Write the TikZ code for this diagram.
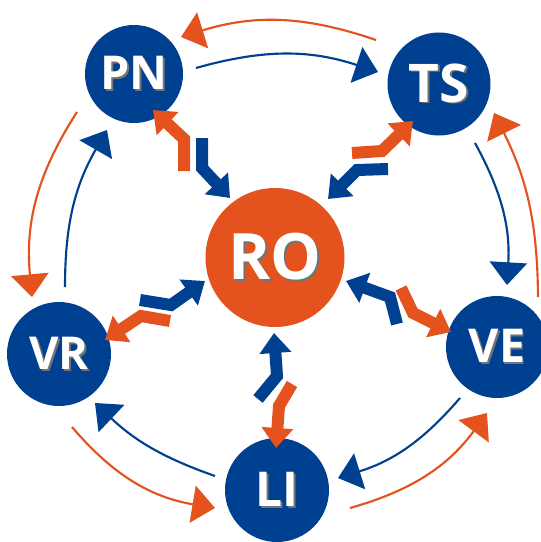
\documentclass[tikz,border=0pt]{standalone}
\usepackage{fontspec}
\newfontfamily\labfont{Open Sans}
\usetikzlibrary{arrows.meta}
\definecolor{cblue}{RGB}{0,64,145}
\definecolor{corange}{RGB}{228,82,30}
\newcommand\shtxt[1]{\makebox[0pt][l]{\kern1.3pt\raisebox{-1.3pt}{\color{black!55}#1}}#1}
\begin{document}
\begin{tikzpicture}[x=0.75pt,y=0.75pt,
  bub/.style={circle, fill=cblue, inner sep=0pt, text=white},
  bubo/.style={bub, fill=corange},
  lf/.style={font=\labfont\bfseries\fontsize{#1}{#1}\selectfont},
  outb/.style={cblue, line width=1.6pt, -{Triangle[length=17pt,width=28pt]}},
  outo/.style={outb, corange},
  zzb/.style={cblue, line width=9pt, line join=miter, -{Triangle[length=15pt,width=23pt]}},
  zzo/.style={zzb, corange}]
\useasboundingbox (0,0) rectangle (541,-542);
% nodes
\node[bub, lf=35, minimum size=73.5pt] (PN) at (134,-74) {\shtxt{PN}};
\node[bub, lf=40, minimum size=77.25pt] (TS) at (439,-84) {\shtxt{TS}};
\node[bubo, lf=48, minimum size=104.25pt] (RO) at (275,-257.5) {\shtxt{RO}};
\node[bub, lf=34, minimum size=78pt] (VR) at (59,-354) {\shtxt{VR}};
\node[bub, lf=35, minimum size=76.5pt] (VE) at (497,-347) {\shtxt{VE}};
\node[bub, lf=36, minimum size=78pt] (LI) at (277,-490) {\shtxt{LI}};
% outer ring coordinates
\coordinate (b1s) at (196,-68);  \coordinate (b1e) at (378,-72);
\coordinate (o1s) at (376,-40);  \coordinate (o1e) at (181,-37);
\coordinate (b2s) at (475,-143); \coordinate (b2e) at (507,-285);
\coordinate (o2s) at (538,-297); \coordinate (o2e) at (494,-113);
\coordinate (b3s) at (460,-398); \coordinate (b3e) at (338,-478);
\coordinate (o3s) at (350,-508); \coordinate (o3e) at (487,-413);
\coordinate (b4s) at (215,-476); \coordinate (b4e) at (95,-403);
\coordinate (o4s) at (72,-427);  \coordinate (o4e) at (215,-508);
\coordinate (b5s) at (65,-287);  \coordinate (b5e) at (107,-130);
\coordinate (o5s) at (77,-112);  \coordinate (o5e) at (32,-297);
\draw[outb] (b1s) to[bend left=17] (b1e);
\draw[outo] (o1s) to[bend right=18] (o1e);
\draw[outb] (b2s) to[bend left=16] (b2e);
\draw[outo] (o2s) to[bend right=13] (o2e);
\draw[outb] (b3s) to[bend left=16] (b3e);
\draw[outo] (o3s) to[bend right=19] (o3e);
\draw[outb] (b4s) to[bend left=12] (b4e);
\draw[outo] (o4s) to[bend right=20] (o4e);
\draw[outb] (b5s) to[bend left=15] (b5e);
\draw[outo] (o5s) to[bend right=19] (o5e);
% zigzag coordinates
\coordinate (pa1) at (184,-171); \coordinate (pa2) at (184,-139); \coordinate (pa3) at (153,-110);
\coordinate (pb1) at (202,-138); \coordinate (pb2) at (202,-168); \coordinate (pb3) at (230,-198);
\coordinate (ta1) at (352,-153); \coordinate (ta2) at (382,-151); \coordinate (ta3) at (413,-121);
\coordinate (tb1) at (388,-169); \coordinate (tb2) at (357,-170); \coordinate (tb3) at (328,-199);
\coordinate (ea1) at (401,-288); \coordinate (ea2) at (413,-313); \coordinate (ea3) at (451,-332);
\coordinate (eb1) at (397,-324); \coordinate (eb2) at (390,-297); \coordinate (eb3) at (346,-281);
\coordinate (la1) at (292,-384); \coordinate (la2) at (279,-406); \coordinate (la3) at (276,-448);
\coordinate (lb1) at (258,-399); \coordinate (lb2) at (277,-376); \coordinate (lb3) at (274,-333);
\coordinate (va1) at (170,-321); \coordinate (va2) at (141,-316); \coordinate (va3) at (105,-340);
\coordinate (vb1) at (140,-300); \coordinate (vb2) at (171,-305); \coordinate (vb3) at (205,-281);
\draw[zzo] (pa1) -- (pa2) -- (pa3);
\draw[zzb] (pb1) -- (pb2) -- (pb3);
\draw[zzo] (ta1) -- (ta2) -- (ta3);
\draw[zzb] (tb1) -- (tb2) -- (tb3);
\draw[zzo] (ea1) -- (ea2) -- (ea3);
\draw[zzb] (eb1) -- (eb2) -- (eb3);
\draw[zzo] (la1) -- (la2) -- (la3);
\draw[zzb] (lb1) -- (lb2) -- (lb3);
\draw[zzo] (va1) -- (va2) -- (va3);
\draw[zzb] (vb1) -- (vb2) -- (vb3);
\end{tikzpicture}
\end{document}
